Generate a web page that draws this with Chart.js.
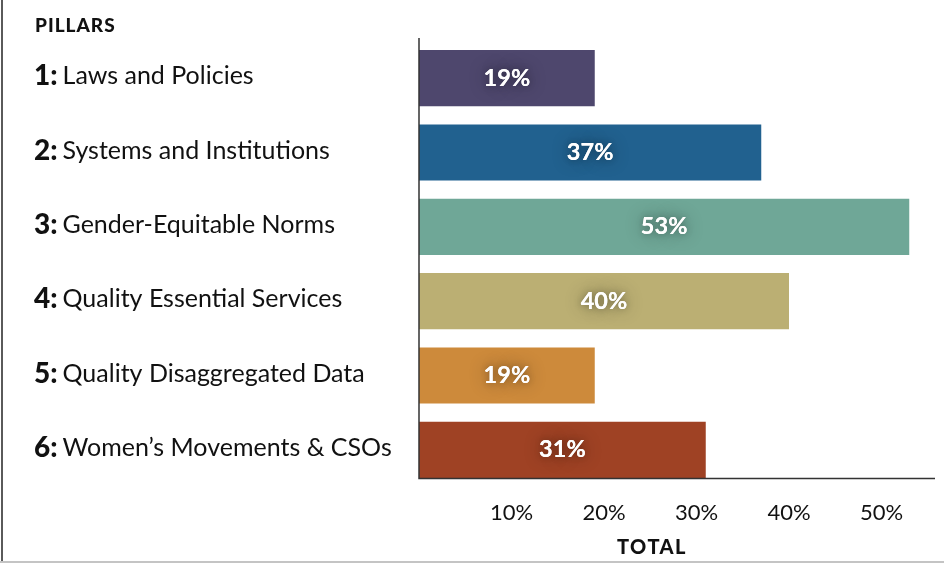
<!DOCTYPE html>
<html>
<head>
<meta charset="utf-8">
<script src="https://cdn.jsdelivr.net/npm/chart.js@4"></script>
<style>
html,body{margin:0;padding:0;background:#fff;}
#wrap{width:944px;height:563px;position:relative;}
</style>
</head>
<body>
<div id="wrap"><canvas id="c" width="944" height="563"></canvas></div>
<script>
const pillarNumbers = ["1:", "2:", "3:", "4:", "5:", "6:"];
const pillarNames = ["Laws and Policies", "Systems and Institutions", "Gender-Equitable Norms", "Quality Essential Services", "Quality Disaggregated Data", "Women\u2019s Movements & CSOs"];
const totals = [19, 37, 53, 40, 19, 31];
const barColors = ["#4e476d", "#21618f", "#6fa797", "#bbaf73", "#cd8a3b", "#9f4224"];
const xTicks = [10, 20, 30, 40, 50];
const headerLabel = "PILLARS";
const axisTitle = "TOTAL";

const FONT = "Lato, 'Open Sans', sans-serif";

const decor = {
  id: 'decor',
  beforeDraw(chart) {
    const ctx = chart.ctx;
    ctx.save();
    ctx.fillStyle = '#fff';
    ctx.fillRect(0, 0, chart.width, chart.height);
    ctx.fillStyle = '#5a5a5a';
    ctx.fillRect(1, 0, 2, chart.height);
    ctx.fillStyle = '#c4c4c4';
    ctx.fillRect(0, chart.height - 2, chart.width, 2);
    ctx.restore();
  },
  afterDatasetsDraw(chart) {
    const ctx = chart.ctx;
    const x = chart.scales.x, y = chart.scales.y;
    const x0 = x.getPixelForValue(0);
    const lastBar = chart.getDatasetMeta(0).data[totals.length - 1];
    const axisY = Math.round(lastBar.y + lastBar.height / 2) + 0.5;
    ctx.save();
    ctx.strokeStyle = '#333';
    ctx.lineWidth = 1.5;
    ctx.beginPath();
    ctx.moveTo(x0, 38);
    ctx.lineTo(x0, axisY);
    ctx.lineTo(935, axisY);
    ctx.stroke();
    chart.getDatasetMeta(0).data.forEach((bar, i) => {
      const cx = x.getPixelForValue(totals[i] / 2);
      ctx.font = "bold 23.5px " + FONT;
      ctx.textAlign = 'center';
      ctx.textBaseline = 'middle';
      ctx.shadowColor = 'rgba(0,0,0,0.45)';
      ctx.shadowBlur = 18;
      ctx.fillStyle = '#fff';
      ctx.fillText(totals[i] + '%', cx, bar.y);
      ctx.shadowBlur = 6;
      ctx.shadowColor = 'rgba(0,0,0,0.25)';
      ctx.fillText(totals[i] + '%', cx, bar.y);
    });
    ctx.shadowBlur = 0;
    ctx.shadowColor = 'transparent';
    ctx.textAlign = 'left';
    ctx.textBaseline = 'middle';
    ctx.fillStyle = '#111';
    pillarNames.forEach((name, i) => {
      const yy = y.getPixelForValue(i) - 2;
      ctx.font = "900 28px " + FONT;
      ctx.fillText(pillarNumbers[i], 34, yy);
      const w = ctx.measureText(pillarNumbers[i]).width;
      ctx.font = "400 25px " + FONT;
      ctx.fillText(name, 34 + w + 5, yy);
    });
    ctx.letterSpacing = '1px';
    ctx.font = "900 19px " + FONT;
    ctx.fillText(headerLabel, 35, 26);
    ctx.textAlign = 'center';
    ctx.letterSpacing = '1.5px';
    ctx.font = "900 20px " + FONT;
    ctx.fillText(axisTitle, 652, 548);
    ctx.restore();
  }
};

new Chart(document.getElementById('c'), {
  type: 'bar',
  data: {
    labels: pillarNames,
    datasets: [{
      data: totals,
      backgroundColor: barColors,
      borderWidth: 0,
      barPercentage: 0.755,
      categoryPercentage: 1.0
    }]
  },
  options: {
    indexAxis: 'y',
    responsive: false,
    animation: false,
    devicePixelRatio: 1,
    layout: { padding: { top: 41, right: 7, left: 0, bottom: 0 } },
    plugins: { legend: { display: false }, tooltip: { enabled: false } },
    scales: {
      x: {
        min: 0,
        max: 56,
        afterBuildTicks(scale) { scale.ticks = xTicks.map(v => ({ value: v })); },
        afterFit(scale) { scale.height = 76; },
        grid: { display: false, drawTicks: false },
        border: { display: false },
        ticks: {
          padding: 13,
          color: '#111',
          font: { family: FONT, size: 22 },
          callback: (v) => v + '%'
        }
      },
      y: {
        afterFit(scale) { scale.width = 419; },
        grid: { display: false, drawTicks: false },
        border: { display: false },
        ticks: { display: false }
      }
    }
  },
  plugins: [decor]
});
</script>
</body>
</html>
